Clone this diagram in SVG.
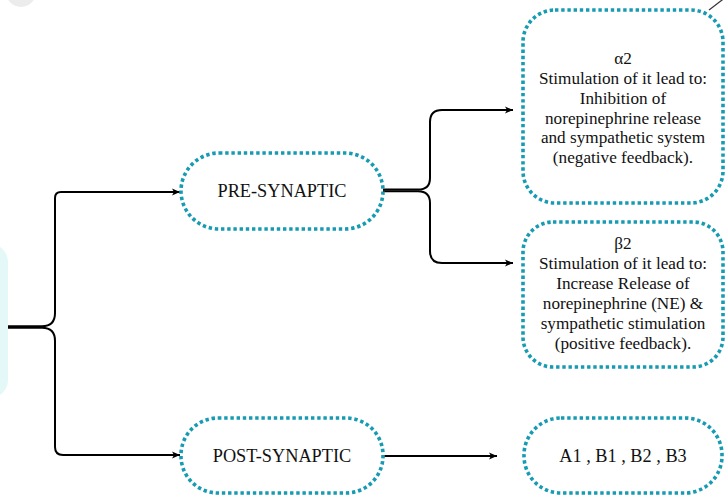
<svg xmlns="http://www.w3.org/2000/svg" width="725" height="495" viewBox="0 0 725 495">
  <style>
    .node { fill: #ffffff; stroke: #169bb3; stroke-width: 3.6; stroke-dasharray: 3.4 2.8; }
    .conn { fill: none; stroke: #000000; stroke-width: 2; }
    .lbl { font-family: "Liberation Serif", "Times New Roman", serif; font-size: 18.3px; fill: #111111; text-anchor: middle; }
    .txt { font-family: "Liberation Serif", "Times New Roman", serif; font-size: 17.2px; fill: #111111; text-anchor: middle; }
  </style>
  <defs>
    <marker id="arrow" markerUnits="userSpaceOnUse" markerWidth="9" markerHeight="8" refX="8" refY="4" orient="auto">
      <path d="M0,0.5 L8,4 L0,7.5 L2,4 z" fill="#000000"/>
    </marker>
  </defs>
  <rect width="725" height="495" fill="#ffffff"/>

  <!-- decorative fragments at edges -->
  <circle cx="21" cy="-8" r="15" fill="#ececec"/>
  <line x1="709" y1="10" x2="726" y2="-3" stroke="#333333" stroke-width="1.2"/>

  <g id="root">
    <rect x="-40" y="244" width="48" height="154" rx="18" fill="#e4f8f8"/>
  </g>

  <g id="connectors">
    <path class="conn" d="M8,326.2 H42 Q55,326.2 55,313 V198 Q55,192 61,192 H180" marker-end="url(#arrow)"/>
    <path class="conn" d="M8,327.8 H42 Q55,327.8 55,341 V447 Q55,455 63,455 H180" marker-end="url(#arrow)"/>
    <path class="conn" d="M383,189.6 H418 Q430,189.6 430,178 V122 Q430,110 442,110 H513" marker-end="url(#arrow)"/>
    <path class="conn" d="M383,191.2 H418 Q430,191.2 430,203 V251 Q430,263 442,263 H513" marker-end="url(#arrow)"/>
    <path class="conn" d="M383,456 H497" marker-end="url(#arrow)"/>
  </g>

  <g id="pre">
    <rect class="node" x="181" y="153" width="202" height="76" rx="38"/>
    <text class="lbl" x="282" y="197">PRE-SYNAPTIC</text>
  </g>

  <g id="post">
    <rect class="node" x="181" y="418" width="202" height="75" rx="37"/>
    <text class="lbl" x="282" y="462">POST-SYNAPTIC</text>
  </g>

  <g id="alpha2">
    <rect class="node" x="523" y="10" width="200" height="193" rx="32"/>
    <text class="txt" x="623" y="64">α2</text>
    <text class="txt" x="623" y="84">Stimulation of it lead to:</text>
    <text class="txt" x="623" y="104">Inhibition of</text>
    <text class="txt" x="623" y="123.5">norepinephrine release</text>
    <text class="txt" x="623" y="143">and sympathetic system</text>
    <text class="txt" x="623" y="163">(negative feedback).</text>
  </g>

  <g id="beta2">
    <rect class="node" x="523" y="222" width="200" height="145" rx="30"/>
    <text class="txt" x="623" y="248.5">β2</text>
    <text class="txt" x="623" y="268.5">Stimulation of it lead to:</text>
    <text class="txt" x="623" y="288.5">Increase Release of</text>
    <text class="txt" x="623" y="308.5">norepinephrine (NE) &amp;</text>
    <text class="txt" x="623" y="328.5">sympathetic stimulation</text>
    <text class="txt" x="623" y="348.5">(positive feedback).</text>
  </g>

  <g id="subtypes">
    <rect class="node" x="524" y="418" width="198" height="75" rx="37"/>
    <text class="lbl" x="623" y="462">A1 , B1 , B2 , B3</text>
  </g>
</svg>
